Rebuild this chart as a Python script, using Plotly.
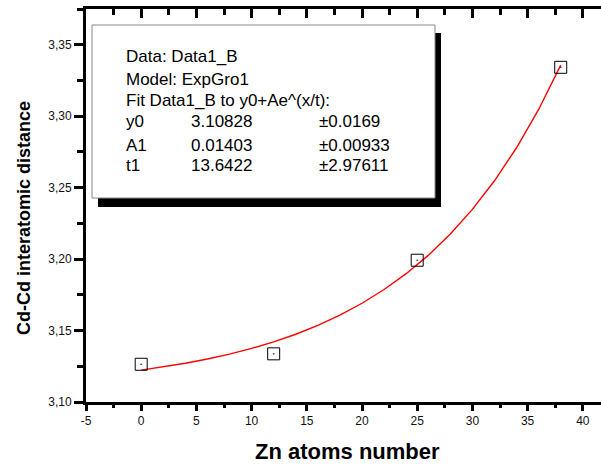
import plotly.graph_objects as go

# Measured Cd-Cd distances vs. number of Zn atoms
zn_atoms = [0, 12, 25, 38]
cd_cd_distance = [3.1264, 3.1337, 3.1992, 3.3342]

# ExpGro1 fit curve samples
fit_x = [0, 2, 4, 6, 8, 10, 12, 14, 16, 18, 20, 22, 24, 26, 28, 30, 32, 34, 36, 38]
fit_y = [3.1223, 3.1245, 3.1271, 3.1301, 3.1335, 3.1375, 3.1421, 3.1474, 3.1536, 3.1608,
         3.1691, 3.1787, 3.1898, 3.2026, 3.2175, 3.2348, 3.2548, 3.2779, 3.3047, 3.3357]

# Axis ticks
x_ticks = [-5, 0, 5, 10, 15, 20, 25, 30, 35, 40]
y_ticks = [3.10, 3.15, 3.20, 3.25, 3.30, 3.35]
y_tick_text = ["3,10", "3,15", "3,20", "3,25", "3,30", "3,35"]

# Fit report lines
report_head = ["Data: Data1_B", "Model: ExpGro1", "Fit Data1_B to y0+Ae^(x/t):"]
param_names = ["y0", "A1", "t1"]
param_values = ["3.10828", "0.01403", "13.6422"]
param_errors = ["±0.0169", "±0.00933", "±2.97611"]

W, H = 601, 465
L, R, T, B = 86, 0, 9, 63
PW, PH = W - L - R, H - T - B


def px(x):
    return (x - L) / PW


def py(y):
    return (H - B - y) / PH


FONT = "Liberation Sans, Arial, sans-serif"

fig = go.Figure()

fig.add_trace(go.Scatter(
    x=fit_x, y=fit_y, mode="lines",
    line=dict(color="#ff0000", width=1.4),
    hoverinfo="skip", showlegend=False,
))
fig.add_trace(go.Scatter(
    x=zn_atoms, y=cd_cd_distance, mode="markers",
    marker=dict(symbol="square-open-dot", size=12, color="#000000",
                line=dict(color="#000000", width=1)),
    showlegend=False,
))
# carrier trace for the top axis
fig.add_trace(go.Scatter(x=[-5], y=[3.10], xaxis="x2", mode="markers",
                         marker=dict(opacity=0), hoverinfo="skip", showlegend=False))

XR = [-5, -5 + PW / 11.04]

fig.update_layout(
    width=W, height=H,
    margin=dict(l=L, r=R, t=T, b=B),
    paper_bgcolor="white", plot_bgcolor="white",
    font=dict(family=FONT, color="#000000"),
    xaxis=dict(
        range=XR, showgrid=False, zeroline=False,
        showline=True, linecolor="#000000", linewidth=3,
        ticks="outside", ticklen=6, tickwidth=2.5, tickcolor="#000000",
        tickvals=x_ticks, ticktext=[str(v) for v in x_ticks],
        tickfont=dict(size=12, color="#111111", family=FONT),
        minor=dict(ticks="outside", ticklen=3, tickwidth=2.5, dtick=2.5, tick0=0,
                   tickcolor="#000000"),
    ),
    xaxis2=dict(
        range=XR, overlaying="x", side="top", anchor="y",
        showgrid=False, zeroline=False,
        showline=True, linecolor="#000000", linewidth=3,
        ticks="inside", ticklen=9, tickwidth=2.5, tickcolor="#000000",
        tickvals=x_ticks, showticklabels=False,
        minor=dict(ticks="inside", ticklen=6, tickwidth=2.5, dtick=2.5, tick0=0,
                   tickcolor="#000000"),
    ),
    yaxis=dict(
        range=[3.10, 3.375], showgrid=False, zeroline=False,
        showline=True, linecolor="#000000", linewidth=3,
        ticks="outside", ticklen=9, tickwidth=2.5, tickcolor="#000000",
        tickvals=y_ticks, ticktext=y_tick_text,
        tickfont=dict(size=12, color="#111111", family=FONT),
        minor=dict(ticks="outside", ticklen=6, tickwidth=2.5, dtick=0.025, tick0=3.1,
                   tickcolor="#000000"),
    ),
)

# Fit report box with drop shadow
fig.add_shape(type="rect", xref="paper", yref="paper",
              x0=px(98), x1=px(441), y0=py(207), y1=py(33),
              fillcolor="#000000", line=dict(width=0), layer="above")
fig.add_shape(type="rect", xref="paper", yref="paper",
              x0=px(92), x1=px(435), y0=py(198), y1=py(25),
              fillcolor="#ffffff", line=dict(color="#888888", width=1), layer="above")

head_y = [56, 79, 100]
for txt, yy in zip(report_head, head_y):
    fig.add_annotation(text=txt, xref="paper", yref="paper", x=px(125), y=py(yy),
                       xanchor="left", yanchor="middle", showarrow=False, borderpad=0,
                       font=dict(size=17, family=FONT, color="#000000"))

row_y = [122, 146, 166]
for name, val, err, yy in zip(param_names, param_values, param_errors, row_y):
    for txt, xx in ((name, 125), (val, 190), (err, 318)):
        fig.add_annotation(text=txt, xref="paper", yref="paper", x=px(xx), y=py(yy),
                           xanchor="left", yanchor="middle", showarrow=False, borderpad=0,
                           font=dict(size=17, family=FONT, color="#000000"))

# Axis titles
fig.add_annotation(text="<b>Zn atoms number</b>", xref="paper", yref="paper",
                   x=px(347), y=py(452), xanchor="center", yanchor="middle",
                   showarrow=False, font=dict(size=22, family=FONT, color="#000000"))
fig.add_annotation(text="<b>Cd-Cd interatomic distance</b>", xref="paper", yref="paper",
                   x=px(24), y=py(218), xanchor="center", yanchor="middle",
                   textangle=-90, showarrow=False,
                   font=dict(size=18, family=FONT, color="#000000"))

fig.write_html("out.html")
